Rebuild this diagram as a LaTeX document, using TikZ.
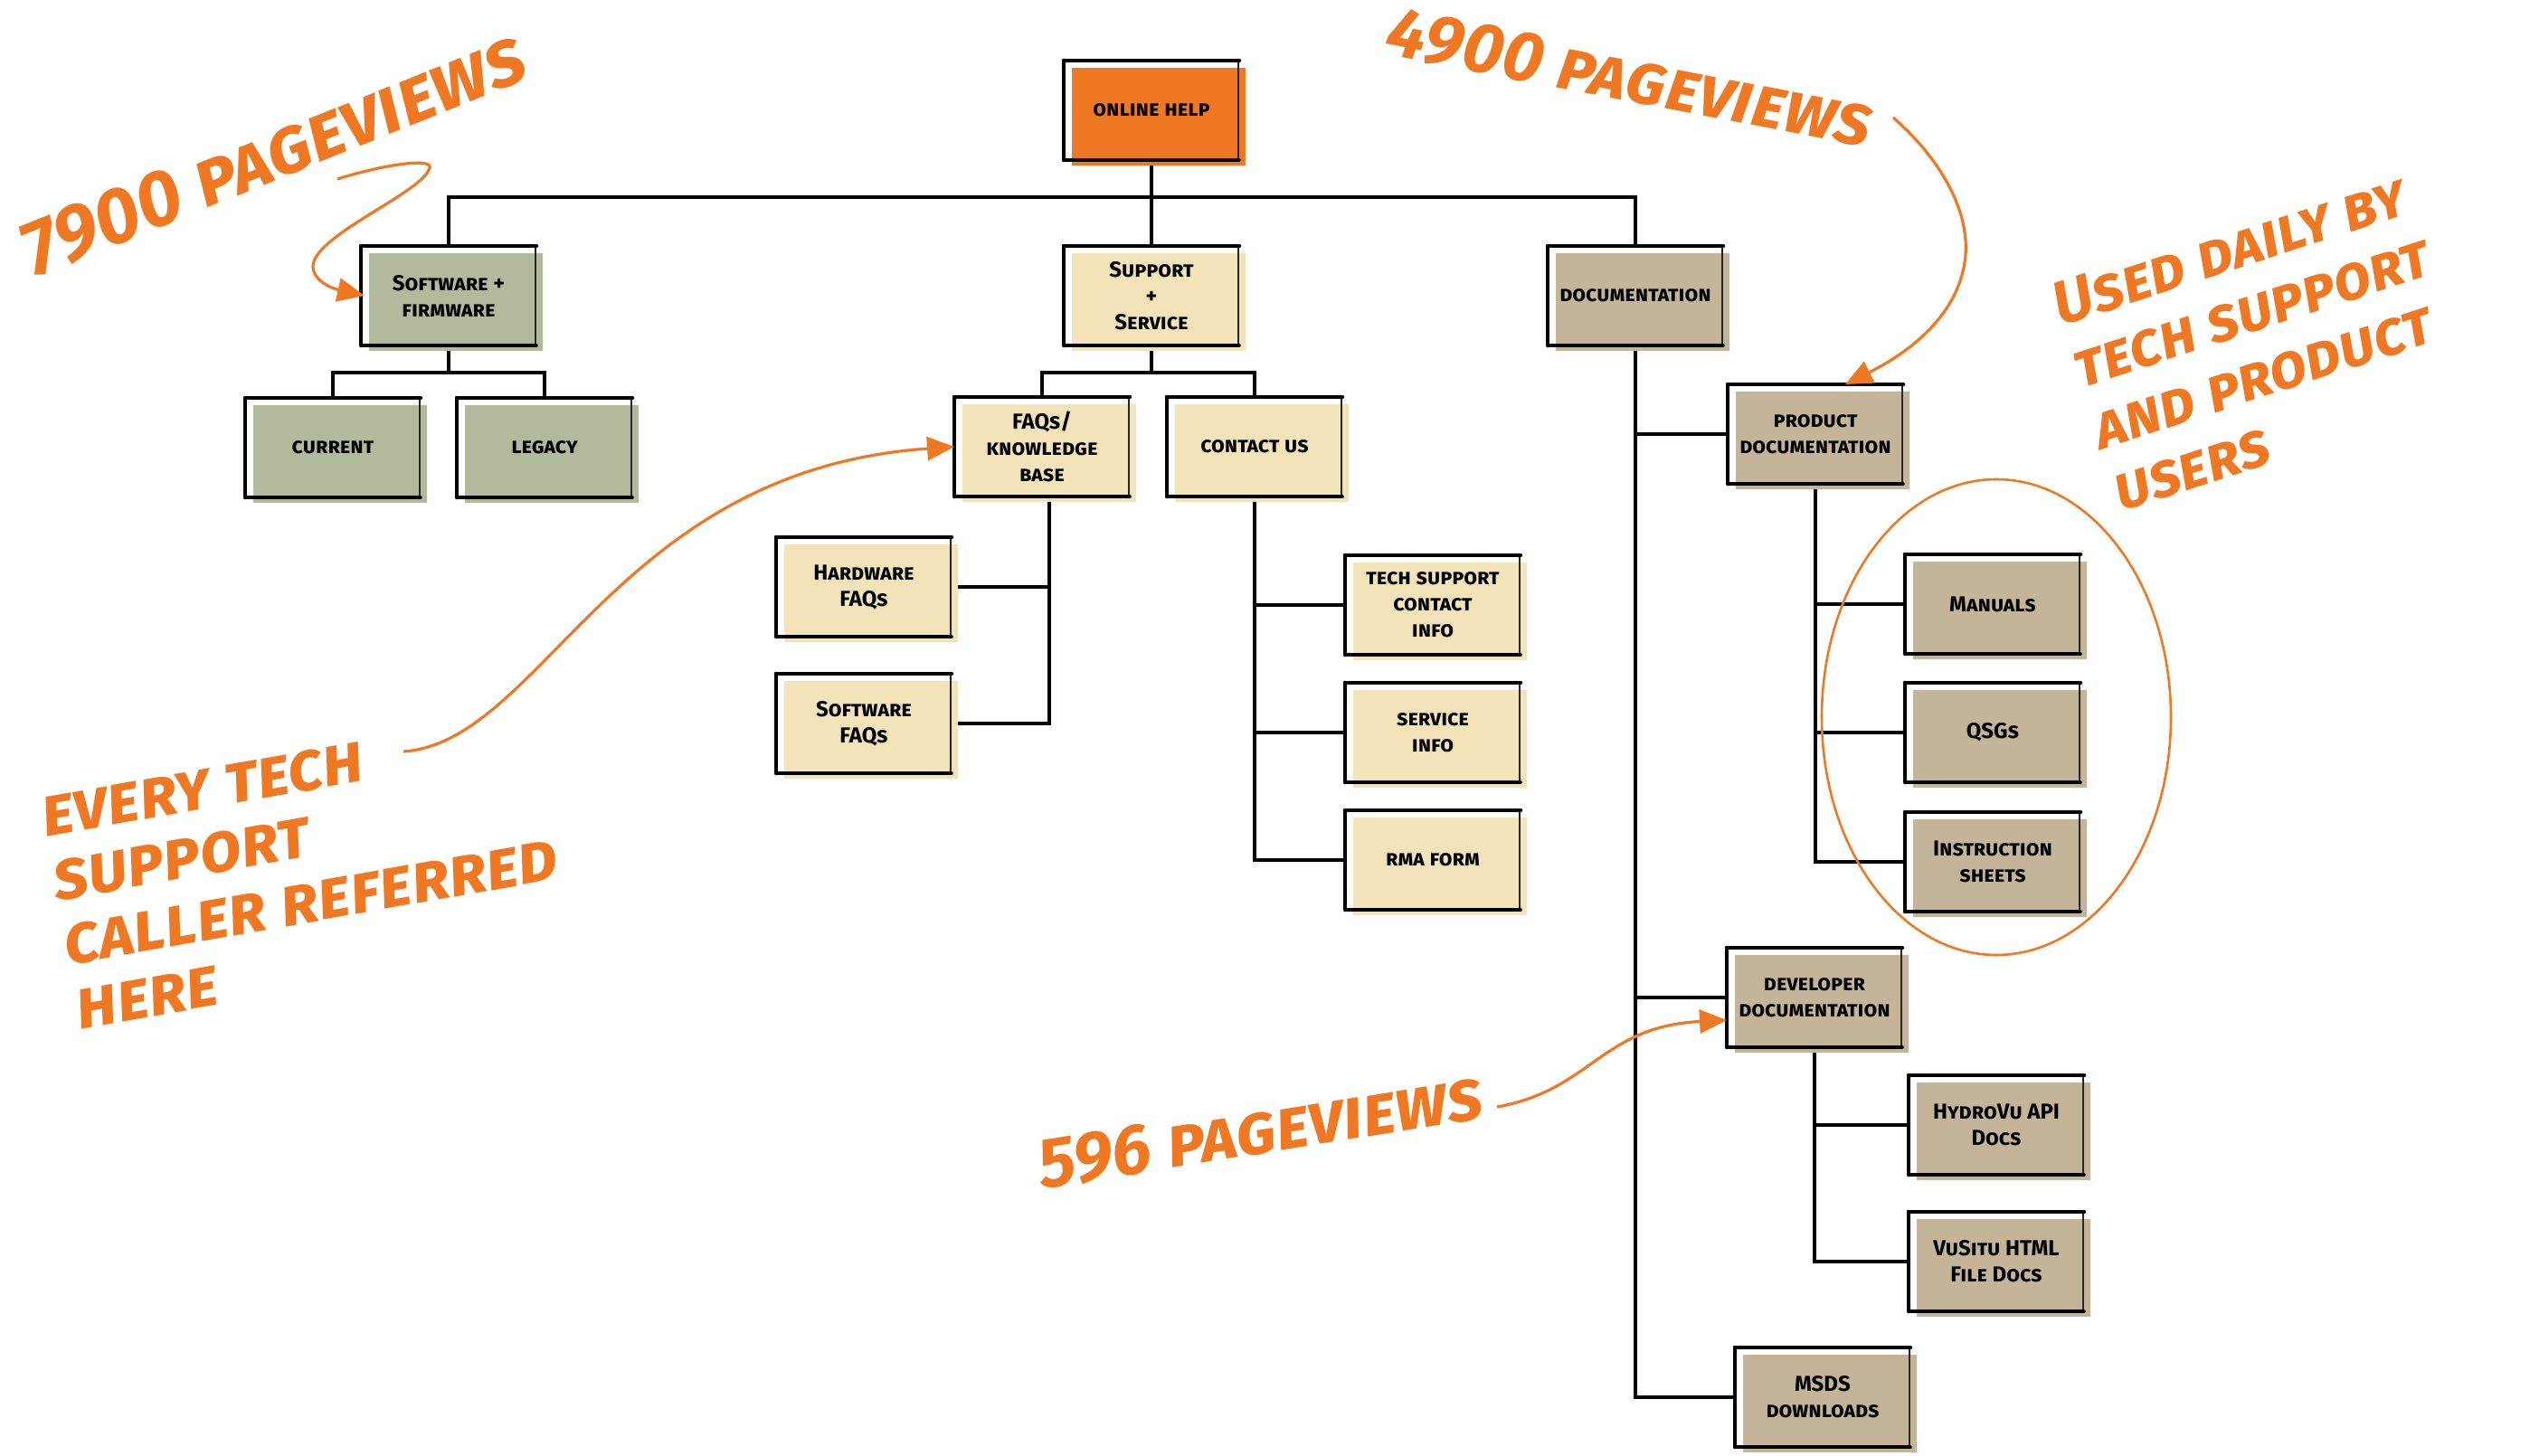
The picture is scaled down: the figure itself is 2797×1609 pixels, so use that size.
\documentclass[tikz,border=0pt]{standalone}
\usepackage{fontspec}
\newfontfamily\boxfam{Fira Sans}[Letters=SmallCaps]
\newfontfamily\notefam{Fira Sans}[Letters=SmallCaps]
\usetikzlibrary{shadows,arrows.meta,backgrounds}
\definecolor{corange}{HTML}{F07822}
\definecolor{cgreen}{HTML}{B1BA9A}
\definecolor{ccream}{HTML}{F2E4B8}
\definecolor{ctan}{HTML}{C5B598}
\newcommand\boxfont{\boxfam\bfseries\fontsize{24}{29}\selectfont}
\tikzset{
  boxbase/.style={minimum width=192pt, minimum height=108pt, inner sep=0pt,
    align=center, font=\boxfont, draw=black!85, line width=2pt,
    general shadow={fill=#1, shadow xshift=8pt, shadow yshift=-7pt},
    append after command={
      (\tikzlastnode.south west) edge[boxedge, line width=4.5pt] (\tikzlastnode.north west)
      (\tikzlastnode.north west) edge[boxedge, line width=4.5pt] (\tikzlastnode.north east)
      (\tikzlastnode.south west) edge[boxedge, line width=3.5pt] (\tikzlastnode.south east)
    }},
  boxedge/.style={draw=black, line cap=round},
  obox/.style={boxbase=corange},
  gbox/.style={boxbase=cgreen},
  cbox/.style={boxbase=ccream},
  tbox/.style={boxbase=ctan},
  conn/.style={draw=black, line width=4pt, line cap=rect},
  note/.style={text=corange, align=left, inner sep=0pt},
  notearrow/.style={draw=corange, line width=3.2pt, -{Triangle[length=30pt,width=26pt]}},
}
\begin{document}
\begin{tikzpicture}[x=1pt,y=-1pt]
\useasboundingbox (0,0) rectangle (2797,1609);
% nodes
\node[obox] (help) at (1273,122) {online help};
\node[gbox] (sw) at (496,327) {Software + \\ firmware};
\node[cbox] (ss) at (1273,327) {Support\\+\\Service};
\node[tbox] (doc) at (1808,327) {documentation};
\node[gbox] (current) at (368,495) {current};
\node[gbox] (legacy) at (602,495) {legacy};
\node[cbox] (faqs) at (1152,494) {FAQs/\\knowledge\\base};
\node[cbox] (contact) at (1387,494) {contact us};
\node[cbox] (hwfaq) at (955,649) {Hardware\\FAQs};
\node[cbox] (swfaq) at (955,800) {Software\\FAQs};
\node[cbox] (tech) at (1584,669) {tech support\\contact\\info};
\node[cbox] (service) at (1584,810) {service\\info};
\node[cbox] (rma) at (1584,951) {rma form};
\node[tbox] (proddoc) at (2007,480) {product\\documentation};
\node[tbox] (manuals) at (2203,668) {Manuals};
\node[tbox] (qsgs) at (2203,810) {QSGs};
\node[tbox] (instr) at (2203,953) {Instruction\\sheets};
\node[tbox] (devdoc) at (2006,1103) {developer\\documentation};
\node[tbox] (hydrovu) at (2207,1244) {HydroVu API\\Docs};
\node[tbox] (vusitu) at (2207,1395) {VuSitu HTML\\File Docs};
\node[tbox] (msds) at (2015,1545) {MSDS\\downloads};
% connectors
\begin{pgfonlayer}{background}
\coordinate (tb) at (1273,218);
\coordinate (swb) at (496,412);
\coordinate (ssb) at (1273,412);
\coordinate (fqv) at (1160,548);
\draw[conn] (help.south) -- (tb);
\draw[conn] (sw.north) |- (tb) -| (doc.north);
\draw[conn] (tb) -- (ss.north);
\draw[conn] (sw.south) -- (swb);
\draw[conn] (current.north) |- (swb) -| (legacy.north);
\draw[conn] (ss.south) -- (ssb);
\draw[conn] (faqs.north) |- (ssb) -| (contact.north);
\draw[conn] (fqv) |- (swfaq.east);
\draw[conn] (hwfaq.east) -- (hwfaq.east -| fqv);
\draw[conn] (contact.south) |- (rma.west);
\draw[conn] (tech.west) -- (tech.west -| contact.south);
\draw[conn] (service.west) -- (service.west -| contact.south);
\draw[conn] (doc.south) |- (msds.west);
\draw[conn] (proddoc.west) -- (proddoc.west -| doc.south);
\draw[conn] (devdoc.west) -- (devdoc.west -| doc.south);
\draw[conn] (proddoc.south) |- (instr.west);
\draw[conn] (manuals.west) -- (manuals.west -| proddoc.south);
\draw[conn] (qsgs.west) -- (qsgs.west -| proddoc.south);
\draw[conn] (devdoc.south) |- (vusitu.west);
\draw[conn] (hydrovu.west) -- (hydrovu.west -| devdoc.south);
\end{pgfonlayer}
% annotations
\node[note, rotate=22, font=\notefam\bfseries\itshape\fontsize{86}{90}\selectfont] (n7900) at (302,170) {7900 pageviews};
\node[note, rotate=-11, font=\notefam\bfseries\itshape\fontsize{78}{84}\selectfont] (n4900) at (1802,86) {4900 pageviews};
\node[note, rotate=9, font=\notefam\bfseries\itshape\fontsize{78}{82}\selectfont] (n596) at (1393,1250) {596 pageviews};
\node[note, rotate=18, font=\notefam\bfseries\itshape\fontsize{68}{72}\selectfont] (nused) at (2500,378) {Used daily by\\tech support\\and product\\users};
\node[note, rotate=10, font=\notefam\bfseries\itshape\fontsize{76}{72}\selectfont] (nevery) at (338,962) {every tech\\support\\caller referred\\here};
\coordinate (a1s) at (373,198);
\coordinate (a2s) at (2093,130);
\coordinate (a3s) at (446,831);
\coordinate (a4s) at (1655,1224);
\draw[notearrow] (a1s) .. controls (420,183) and (485,172) .. (474,188) .. controls (462,215) and (345,262) .. (346,295) .. controls (347,317) and (385,323) .. ([xshift=4pt]sw.west);
\draw[notearrow] (a2s) .. controls (2150,180) and (2180,240) .. (2172,290) .. controls (2163,350) and (2110,390) .. (proddoc.north -| 2040,0);
\draw[notearrow] (a3s) .. controls (600,820) and (680,520) .. (faqs.west);
\draw[notearrow] (a4s) .. controls (1760,1205) and (1770,1135) .. ([yshift=-25pt]devdoc.west);
\draw[draw=corange, line width=2.6pt] (2207,793) ellipse [x radius=193, y radius=263];
\end{tikzpicture}
\end{document}
